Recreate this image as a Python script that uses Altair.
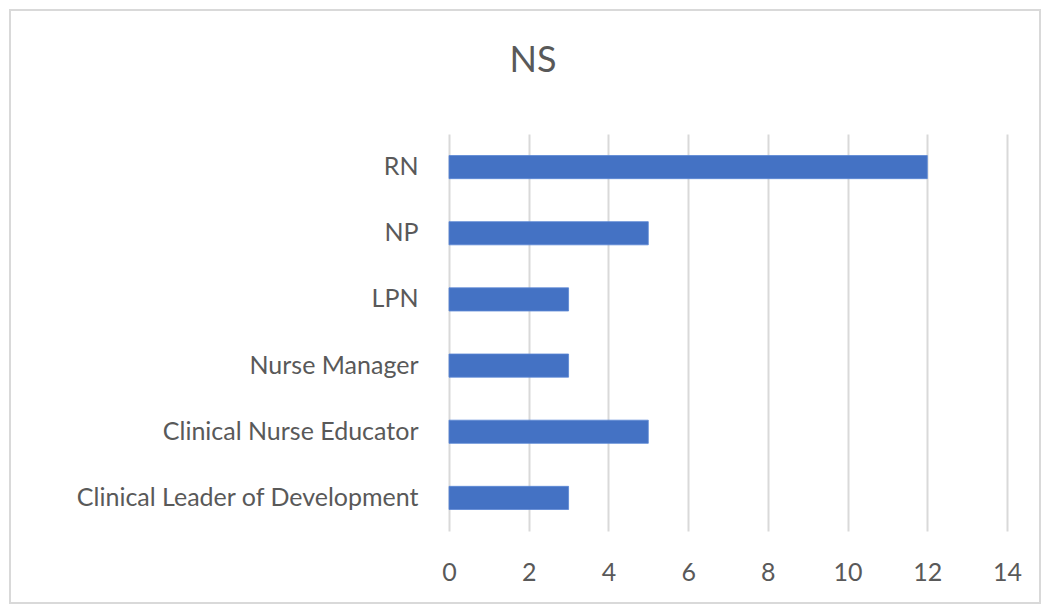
import altair as alt
import pandas as pd

categories = ["RN", "NP", "LPN", "Nurse Manager", "Clinical Nurse Educator", "Clinical Leader of Development"]
values = [12, 5, 3, 3, 5, 3]
x_ticks = [0, 2, 4, 6, 8, 10, 12, 14]
title_text = "NS"

df = pd.DataFrame({"role": categories, "count": values})

FONT = "Lato"
TXT = "#595959"

bars = alt.Chart(df).mark_bar(color="#4472C4", stroke="#5b86d4", strokeWidth=0.8).encode(
    x=alt.X("count:Q",
            scale=alt.Scale(domain=[0, 14], nice=False),
            axis=alt.Axis(values=x_ticks, title=None, grid=True, gridColor="#d9d9d9", gridWidth=2,
                          domain=False, ticks=False, labelFont=FONT, labelFontSize=25,
                          labelColor=TXT, labelPadding=29, labelFlush=False)),
    y=alt.Y("role:N", sort=categories,
            scale=alt.Scale(paddingInner=0.65, paddingOuter=0.325),
            axis=alt.Axis(title=None, domain=False, ticks=False, labelFont=FONT, labelFontSize=25,
                          labelColor=TXT, labelPadding=31, labelLimit=430)),
)

single = alt.Data(values=[{"t": title_text}])

title = alt.Chart(single).mark_text(
    font=FONT, fontSize=36, color=TXT, align="center", baseline="middle"
).encode(
    text="t:N", x=alt.value(84), y=alt.value(-73),
)

border = alt.Chart(single).mark_rect(
    fill="transparent", stroke="#d9d9d9", strokeWidth=2
).encode(
    x=alt.value(-439), x2=alt.value(558 + 33),
    y=alt.value(-124), y2=alt.value(397 + 72),
)

chart = alt.layer(border, title, bars).properties(
    width=558, height=397,
    padding={"left": 441, "top": 126, "right": 35, "bottom": 75},
    autosize=alt.AutoSizeParams(type="none"),
).configure_view(stroke=None)

chart.save("out.html", embed_options={"renderer": "svg", "actions": False})
